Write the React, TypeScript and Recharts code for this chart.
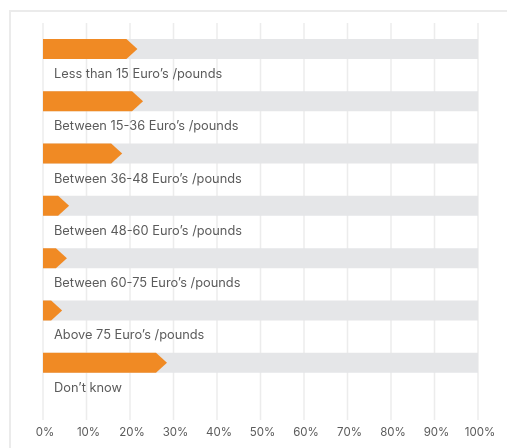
import { BarChart, Bar, XAxis, YAxis, CartesianGrid, LabelList } from "recharts"

const categories = [
  "Less than 15 Euro’s /pounds",
  "Between 15-36 Euro’s /pounds",
  "Between 36-48 Euro’s /pounds",
  "Between 48-60 Euro’s /pounds",
  "Between 60-75 Euro’s /pounds",
  "Above 75 Euro’s /pounds",
  "Don’t know",
]
const shares = [21.7, 23, 18.2, 6, 5.5, 4.4, 28.5]
const xTicks = [0, 10, 20, 30, 40, 50, 60, 70, 80, 90, 100]

const data = categories.map((name, i) => ({ name, value: shares[i] }))

const ORANGE = "#f08a24"
const TRACK = "#e5e6e8"
const GRID = "#ececec"
const TEXT = "#5b5b5b"
const FONT = "Inter, sans-serif"

// orange bar with an arrow tip at the value
function ArrowBar(props: any) {
  const { x, y, width, height } = props
  const tip = Math.min(11, width)
  const pts = [
    [x, y],
    [x + width - tip, y],
    [x + width, y + height / 2],
    [x + width - tip, y + height],
    [x, y + height],
  ]
  return <polygon points={pts.map((p) => p.join(",")).join(" ")} fill={ORANGE} />
}

function NameLabel(props: any) {
  const { x, y, height, value } = props
  return (
    <text x={x + 11} y={y + height + 19} fill={TEXT} fontSize={12.8} fontFamily={FONT}>
      {value}
    </text>
  )
}

export default function App() {
  return (
    <div style={{ position: "fixed", left: 0, top: 0, width: 507, height: 448, overflow: "hidden" }}>
      <div
        style={{
          position: "absolute",
          left: 9,
          top: 10,
          width: 498,
          height: 438,
          borderLeft: "2px solid #ebebeb",
          borderTop: "2px solid #ebebeb",
          boxSizing: "border-box",
        }}
      />
      <div style={{ position: "absolute", left: 8, top: 8 }}>
        <BarChart
          width={499}
          height={440}
          data={data}
          layout="vertical"
          margin={{ top: 15, right: 29, left: 35, bottom: 0 }}
        >
          <CartesianGrid vertical horizontal={false} stroke={GRID} strokeWidth={1.5} />
          <XAxis
            type="number"
            domain={[0, 100]}
            ticks={xTicks}
            tickFormatter={(v) => `${v}%`}
            axisLine={false}
            tickLine={false}
            height={28}
            dx={2}
            tick={{ fontSize: 11.5, fill: TEXT, fontFamily: FONT }}
          />
          <YAxis type="category" dataKey="name" hide padding={{ top: 0, bottom: 31 }} />
          <Bar
            dataKey="value"
            barSize={20}
            background={{ fill: TRACK }}
            shape={<ArrowBar />}
            isAnimationActive={false}
          >
            <LabelList dataKey="name" content={<NameLabel />} />
          </Bar>
        </BarChart>
      </div>
    </div>
  )
}
